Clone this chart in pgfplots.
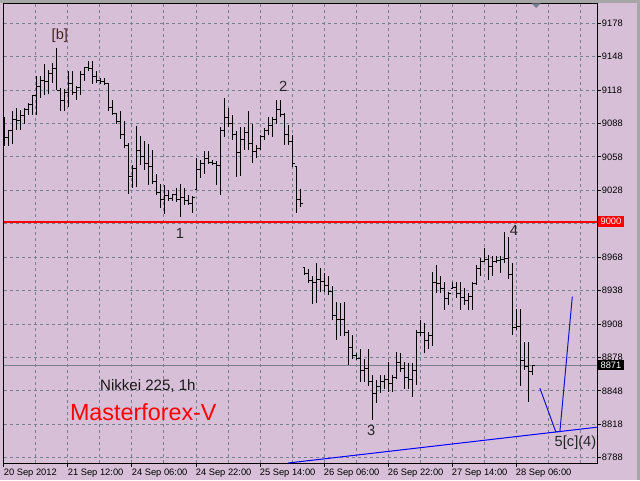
\documentclass[border=0pt]{standalone}
\usepackage{fontspec}
\setmainfont{Liberation Sans}
\usepackage{pgfplots}
\usepackage{pgfplotstable}
\pgfplotsset{compat=1.18}

\definecolor{chartbg}{RGB}{216,191,216}
\definecolor{gridc}{RGB}{120,128,144}
\definecolor{wave}{RGB}{20,20,210}
\definecolor{lvlred}{RGB}{255,0,0}

% open tick to the left, close tick to the right
\pgfdeclareplotmark{otick}{\pgfpathmoveto{\pgfqpoint{-1.6pt}{0pt}}\pgfpathlineto{\pgfqpoint{0pt}{0pt}}\pgfusepathqstroke}
\pgfdeclareplotmark{ctick}{\pgfpathmoveto{\pgfqpoint{0pt}{0pt}}\pgfpathlineto{\pgfqpoint{1.6pt}{0pt}}\pgfusepathqstroke}

% Nikkei 225, H1 bars: index, open, high, low, close
\pgfplotstableread{
k o h l c
1 9090 9094 9068 9075
2 9075 9082 9068 9082
3 9082 9099 9070 9092
4 9092 9102 9082 9091
5 9091 9100 9082 9095
6 9095 9102 9088 9101
7 9101 9106 9096 9105
8 9105 9114 9096 9113
9 9113 9131 9096 9121
10 9121 9131 9111 9127
11 9127 9141 9114 9126
12 9126 9136 9115 9133
13 9133 9142 9124 9137
14 9137 9156 9118 9118
15 9118 9120 9099 9109
16 9109 9119 9099 9116
17 9116 9135 9103 9124
18 9124 9135 9114 9116
19 9116 9122 9109 9120
20 9120 9135 9114 9132
21 9132 9139 9126 9138
22 9138 9144 9135 9137
23 9137 9144 9124 9130
24 9130 9135 9124 9127
25 9127 9129 9124 9126
26 9126 9129 9123 9124
27 9124 9124 9099 9102
28 9102 9109 9096 9097
29 9097 9097 9088 9090
30 9090 9099 9074 9078
31 9078 9090 9066 9068
32 9068 9071 9025 9040
33 9040 9051 9030 9048
34 9048 9086 9031 9064
35 9064 9077 9051 9058
36 9058 9072 9046 9052
37 9052 9070 9033 9049
38 9049 9064 9034 9036
39 9036 9043 9024 9026
40 9026 9034 9012 9020
41 9020 9033 9007 9023
42 9023 9028 9018 9021
43 9021 9025 9018 9024
44 9024 9030 9018 9020
45 9020 9034 9004 9022
46 9022 9030 9015 9019
47 9019 9024 9015 9016
48 9016 9023 9008 9022
49 9029 9057 9029 9047
50 9047 9055 9039 9052
51 9052 9063 9043 9057
52 9057 9063 9052 9053
53 9053 9055 9051 9052
54 9052 9054 9033 9050
55 9050 9085 9024 9082
56 9082 9111 9076 9093
57 9093 9102 9085 9088
58 9088 9096 9073 9078
59 9078 9081 9040 9062
60 9062 9085 9041 9074
61 9074 9085 9064 9080
62 9080 9099 9064 9070
63 9070 9088 9053 9063
64 9063 9069 9057 9066
65 9066 9078 9064 9076
66 9076 9084 9073 9082
67 9082 9094 9078 9086
68 9086 9094 9076 9092
69 9092 9109 9088 9101
70 9101 9109 9094 9096
71 9096 9097 9069 9078
72 9078 9087 9069 9072
73 9072 9078 9049 9052
74 9049 9049 9008 9020
75 9020 9029 9013 9016
76 8959 8959 8952 8953
77 8953 8957 8945 8947
78 8947 8951 8926 8945
79 8945 8963 8927 8948
80 8948 8958 8937 8946
81 8946 8954 8937 8943
82 8943 8951 8934 8937
83 8937 8942 8912 8916
84 8916 8928 8894 8912
85 8912 8927 8897 8912
86 8912 8928 8897 8900
87 8900 8903 8871 8887
88 8887 8898 8877 8880
89 8880 8882 8876 8877
90 8877 8886 8856 8866
91 8866 8877 8856 8868
92 8868 8886 8852 8856
93 8856 8862 8822 8846
94 8846 8858 8837 8852
95 8852 8862 8846 8856
96 8856 8862 8850 8858
97 8858 8874 8847 8855
98 8855 8862 8847 8860
99 8860 8883 8859 8873
100 8873 8882 8865 8868
101 8868 8874 8850 8860
102 8860 8873 8850 8858
103 8858 8873 8843 8866
104 8866 8903 8853 8900
105 8900 8912 8897 8900
106 8900 8909 8882 8893
107 8893 8901 8886 8898
108 8898 8955 8888 8945
109 8945 8961 8936 8944
110 8944 8951 8936 8940
111 8940 8946 8921 8931
112 8931 8937 8925 8935
113 8940 8946 8940 8941
114 8941 8946 8931 8935
115 8935 8946 8921 8932
116 8932 8940 8925 8929
117 8929 8936 8921 8933
118 8933 8946 8921 8944
119 8944 8961 8943 8958
120 8958 8967 8951 8964
121 8964 8976 8964 8966
122 8966 8970 8948 8960
123 8960 8969 8951 8964
124 8964 8969 8963 8965
125 8965 8969 8954 8966
126 8966 8991 8963 8967
127 8967 8986 8948 8952
128 8952 8963 8898 8905
129 8905 8922 8903 8906
130 8906 8922 8852 8875
131 8875 8892 8867 8870
132 8870 8892 8838 8865
133 8865 8871 8862 8871
}\bars

\begin{document}
\begin{tikzpicture}
\fill[chartbg] (0,0) rectangle (480pt,360pt);
\fill[black!35] (0,358pt) rectangle (480pt,360pt);
\fill[black!35] (477.5pt,0) rectangle (480pt,360pt);

\begin{axis}[
    at={(3pt,12.75pt)}, anchor=south west,
    scale only axis, width=444.75pt, height=345pt,
    xmin=0.825, xmax=149.075,
    ymin=8783.2, ymax=9196.2,
    clip=false,
    axis line style={black, line width=0.75pt},
    xtick={0.825,16.825,32.825,48.825,64.825,80.825,96.825,112.825,128.825},
    xticklabels={20 Sep 2012,21 Sep 12:00,24 Sep 06:00,24 Sep 22:00,25 Sep 14:00,26 Sep 06:00,26 Sep 22:00,27 Sep 14:00,28 Sep 06:00},
    minor xtick={8.825,24.825,40.825,56.825,72.825,88.825,104.825,120.825,136.825,144.825},
    ytick={8788,8818,8848,8878,8908,8938,8968,8998,9028,9058,9088,9118,9148,9178},
    yticklabels={8788,8818,8848,8878,8908,8938,8968,,9028,9058,9088,9118,9148,9178},
    grid=both,
    major grid style={gridc, line width=0.75pt, dash pattern=on 2.25pt off 2.25pt},
    minor grid style={gridc, line width=0.75pt, dash pattern=on 2.25pt off 2.25pt},
    tick align=outside,
    xtick pos=left, ytick pos=right,
    yticklabel pos=right,
    major tick length=3pt, minor tick length=0pt,
    tick style={black, line width=0.75pt},
    xticklabel style={anchor=north west, inner sep=0pt, xshift=-0.3pt, yshift=-1.5pt, font=\fontsize{7}{8}\selectfont},
    yticklabel style={anchor=west, inner sep=0pt, xshift=0.5pt, font=\fontsize{7}{8}\selectfont},
    /pgf/number format/assume math mode=true,
    /pgf/number format/set thousands separator={},
]

% current price line
\addplot[gridc, line width=0.75pt, forget plot] coordinates {(0.825,8871) (149.075,8871)};

% bars: high-low range
\addplot[draw=none, no marks, forget plot,
    error bars/.cd, y dir=both, y explicit, error mark=none,
    error bar style={draw=black, solid, line width=0.9pt}]
    table[x=k, y expr={(\thisrow{h}+\thisrow{l})/2}, y error expr={(\thisrow{h}-\thisrow{l})/2}] {\bars};
\addplot[only marks, mark=otick, mark options={draw=black, solid, line width=0.75pt}, forget plot]
    table[x=k, y=o] {\bars};
\addplot[only marks, mark=ctick, mark options={draw=black, solid, line width=0.75pt}, forget plot]
    table[x=k, y=c] {\bars};

% trend line and wave projection
\addplot[color=blue, line width=0.75pt, forget plot] coordinates {(71.9,8783.2) (149.0,8815.3)};
\addplot[color=wave, line width=0.75pt, forget plot] coordinates {(134.8,8850.4) (138.75,8811.4) (139.8,8811.4) (142.9,8932.6)};

% 9000 level
\addplot[color=lvlred, line width=1.5pt, forget plot] coordinates {(0.825,9000) (149.075,9000)};

% wave labels
\node[font=\fontsize{11}{12}\selectfont, text={rgb,255:red,70;green,35;blue,35}] at (axis cs:14.8,9167) {[b]};
\node[font=\fontsize{11}{12}\selectfont, text=black!85] at (axis cs:44.8,8989) {1};
\node[font=\fontsize{11}{12}\selectfont, text=black!85] at (axis cs:70.6,9121) {2};
\node[font=\fontsize{11}{12}\selectfont, text=black!85] at (axis cs:92.6,8812) {3};
\node[font=\fontsize{11}{12}\selectfont, text=black!85] at (axis cs:128.3,8992) {4};
\node[font=\fontsize{11}{12}\selectfont, text=black!85] at (axis cs:143.7,8801) {5[c](4)};

\node[font=\fontsize{11.3}{13}\selectfont, text=black!90] at (axis cs:36.8,8852) {Nikkei 225, 1h};
\node[font=\fontsize{17.5}{20}\selectfont, text=lvlred] at (axis cs:35.65,8829) {Masterforex-V};

% price boxes on the scale
\node[fill=lvlred, text=white, anchor=west, inner xsep=2.2pt, inner ysep=1.3pt, font=\fontsize{7}{8}\selectfont] at (axis cs:149.075,9000) [xshift=0.3pt] {9000};
\node[fill=black, text=white, anchor=west, inner xsep=2.2pt, inner ysep=1.3pt, font=\fontsize{7}{8}\selectfont] at (axis cs:149.075,8871) [xshift=0.3pt] {8871};
\end{axis}

% chart shift marker
\fill[gridc] (398.5pt,357.5pt) -- (405.5pt,357.5pt) -- (402pt,354pt) -- cycle;

\pgfresetboundingbox
\path[use as bounding box] (0,0) rectangle (480pt,360pt);
\end{tikzpicture}
\end{document}
